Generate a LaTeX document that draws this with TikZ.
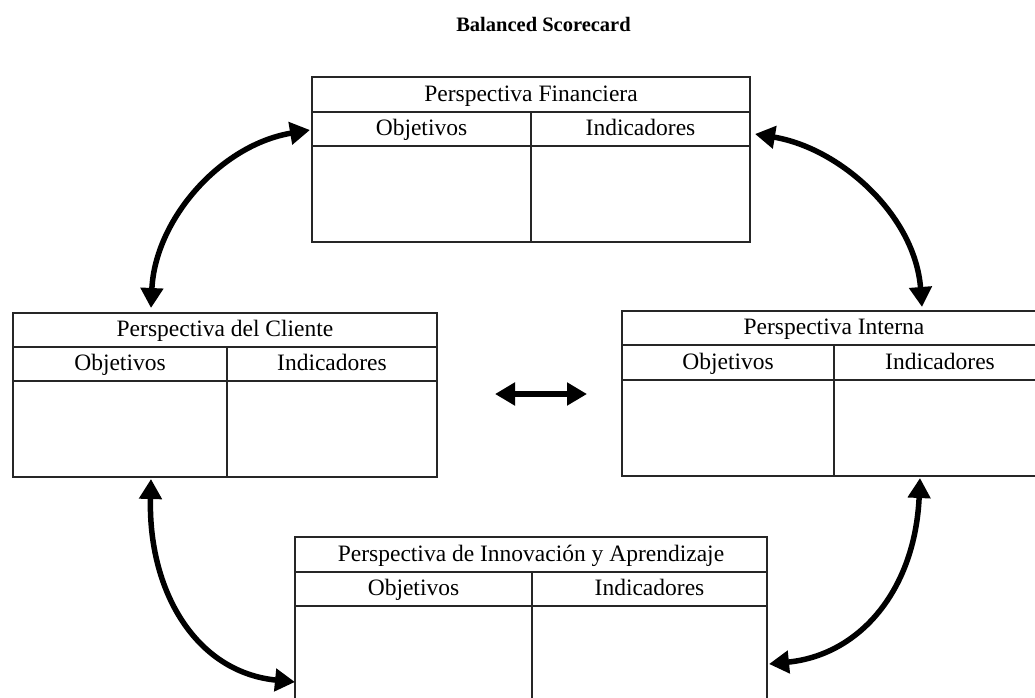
\documentclass[tikz,border=0pt]{standalone}
\usepackage{fontspec}
\setmainfont{Liberation Serif}
\usetikzlibrary{arrows.meta,calc}

\tikzset{
  card/.style={draw=black!85, line width=1.6pt, rectangle, inner sep=0pt, outer sep=0pt, anchor=north west},
  grid/.style={draw=black!85, line width=1.6pt},
  celltext/.style={anchor=base, inner sep=0pt, font=\fontsize{23.5}{26}\selectfont},
  titletext/.style={anchor=base, inner sep=0pt, font=\bfseries\fontsize{20.5}{24}\selectfont},
  link/.style={line width=5.5pt, {Triangle[length=20pt,width=22pt]}-{Triangle[length=20pt,width=22pt]}},
}

% header line, sub-header line and column divider of a card
\newcommand\cardgrid[4]{%
  \draw[grid] ($(#1.north west)+(0,#2)$) -- ($(#1.north east)+(0,#2)$);
  \draw[grid] ($(#1.north west)+(0,#3)$) -- ($(#1.north east)+(0,#3)$);
  \draw[grid] ($(#1.north west)+(#4,#2)$) -- ($(#1.south west)+(#4,0)$);
}

\begin{document}
\begin{tikzpicture}[x=1pt,y=-1pt]
\useasboundingbox (0,0) rectangle (1035,697);
\clip (0,0) rectangle (1035,697);

\node[titletext] (title) at (543.5,31) {Balanced Scorecard};

% Perspectiva Financiera
\node[card, minimum width=438pt, minimum height=165pt] (fin) at (312,77) {};
\cardgrid{fin}{35}{69}{219}
\node[celltext] (fin-h) at (531,101.5) {Perspectiva Financiera};
\node[celltext] (fin-o) at (421.5,135.5) {Objetivos};
\node[celltext] (fin-i) at (640.5,135.5) {Indicadores};

% Perspectiva del Cliente
\node[card, minimum width=424pt, minimum height=164pt] (cli) at (13,313) {};
\cardgrid{cli}{34}{68}{214}
\node[celltext] (cli-h) at (225,336.5) {Perspectiva del Cliente};
\node[celltext] (cli-o) at (120,370.5) {Objetivos};
\node[celltext] (cli-i) at (332,370.5) {Indicadores};

% Perspectiva Interna
\node[card, minimum width=424pt, minimum height=165pt] (int) at (622,311) {};
\cardgrid{int}{34}{69}{212}
\node[celltext] (int-h) at (834,334.5) {Perspectiva Interna};
\node[celltext] (int-o) at (728,369.5) {Objetivos};
\node[celltext] (int-i) at (940,369.5) {Indicadores};

% Perspectiva de Innovacion y Aprendizaje
\node[card, minimum width=472pt, minimum height=185pt] (inn) at (295,537) {};
\cardgrid{inn}{35}{69}{237}
\node[celltext] (inn-h) at (531,561.5) {Perspectiva de Innovación y Aprendizaje};
\node[celltext] (inn-o) at (413.5,595.5) {Objetivos};
\node[celltext] (inn-i) at (649.5,595.5) {Indicadores};

% arrow ends
\coordinate (a1s) at ($(cli.north west)+(138,-5)$);
\coordinate (a1e) at ($(fin.north west)+(-2,53)$);
\coordinate (a2s) at ($(fin.north east)+(5,57)$);
\coordinate (a2e) at ($(int.north west)+(300,-4)$);
\coordinate (a3s) at ($(cli.south west)+(138,2)$);
\coordinate (a3e) at ($(inn.north west)+(0,145)$);
\coordinate (a4s) at ($(int.south west)+(298,2)$);
\coordinate (a4e) at ($(inn.north east)+(2,127)$);
\coordinate (mL) at (495,394);
\coordinate (mR) at (587,394);

% links between the perspectives
\draw[link] (a1s) .. controls (155,220) and (220,145) .. (a1e);
\draw[link] (a2s) .. controls (840,148) and (915,215) .. (a2e);
\draw[link] (a3s) .. controls (148,590) and (195,672) .. (a3e);
\draw[link] (a4s) .. controls (915,590) and (860,655) .. (a4e);
\draw[link] (mL) -- (mR);
\end{tikzpicture}
\end{document}
